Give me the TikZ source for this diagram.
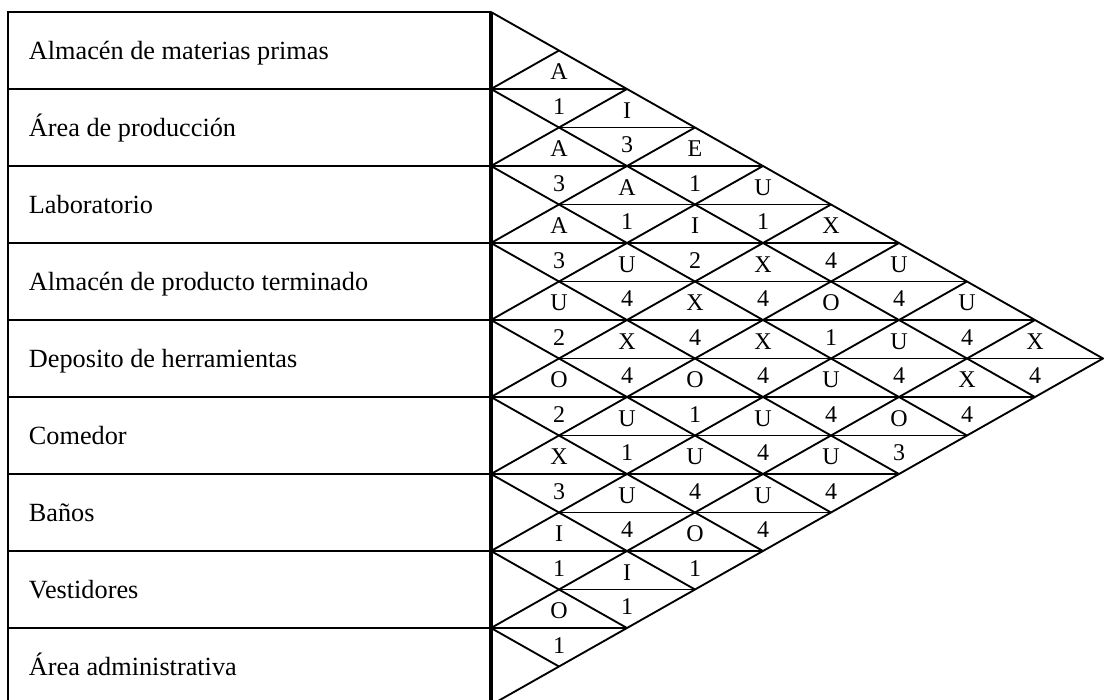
\documentclass[tikz,border=0pt]{standalone}
\usepackage{fontspec}
\setmainfont{Liberation Serif}

\begin{document}
\begin{tikzpicture}[x=0.75pt, y=-0.75pt, line width=1.4pt,
  area/.style={anchor=base west, inner sep=0pt, font=\fontsize{19.7}{23}\selectfont},
  rel/.style={anchor=base, inner sep=0pt, font=\fontsize{18}{21}\selectfont}]
  \useasboundingbox (0,0) rectangle (1104,700);

  \coordinate (TL) at (8,12);
  \coordinate (TR) at (491,12);
  \coordinate (BL) at (8,705);
  \coordinate (BR) at (491,705);

  % tabla de areas
  \draw (BL) -- (TL) -- (TR);
  \foreach \i in {1,...,8}
    \draw (8,12+77*\i) -- (491,12+77*\i);
  \foreach \name [count=\i from 0] in {Almacén de materias primas, Área de producción,
      Laboratorio, Almacén de producto terminado, Deposito de herramientas,
      Comedor, Baños, Vestidores, Área administrativa}
    \node[area] (area\i) at (28,59+77*\i) {\name};

  % diagrama de relaciones
  \begin{scope}[shift={(491,12)}, x=51pt, y=-28.875pt]
    \coordinate (apex) at (9,9);
    \draw (0,0) -- (apex) -- (0,18);
    \foreach \k in {1,...,8} {
      \draw (0,2*\k) -- (\k,\k);
      \draw (0,2*\k) -- ({9-\k},{9+\k});
      \draw (0,2*\k) -- ({min(2*\k,18-2*\k)},2*\k);
    }
    \foreach \k in {1,...,7}
      \draw (1,2*\k+1) -- ({min(2*\k+1,17-2*\k)},2*\k+1);

    % letra arriba, numero abajo
    \foreach \vals [count=\k] in {{A},{1,I},{A,3,E},{3,A,1,U},{A,1,I,1,X},
        {3,U,2,X,4,U},{U,4,X,4,O,4,U},{2,X,4,X,1,U,4,X},{O,4,O,4,U,4,X,4},
        {2,U,1,U,4,O,4},{X,1,U,4,U,3},{3,U,4,U,4},{I,4,O,4},{1,I,1},{O,1},{1}}
      \foreach \t [count=\u] in \vals {
        \pgfmathsetmacro\dy{isodd(\u+\k) ? 0.65 : 0.76}
        \node[rel] (r-\k-\u) at (\u,\k+\dy) {\t};
      }
  \end{scope}

  \draw[line width=2.5pt] (TR) -- (BR);
\end{tikzpicture}
\end{document}
